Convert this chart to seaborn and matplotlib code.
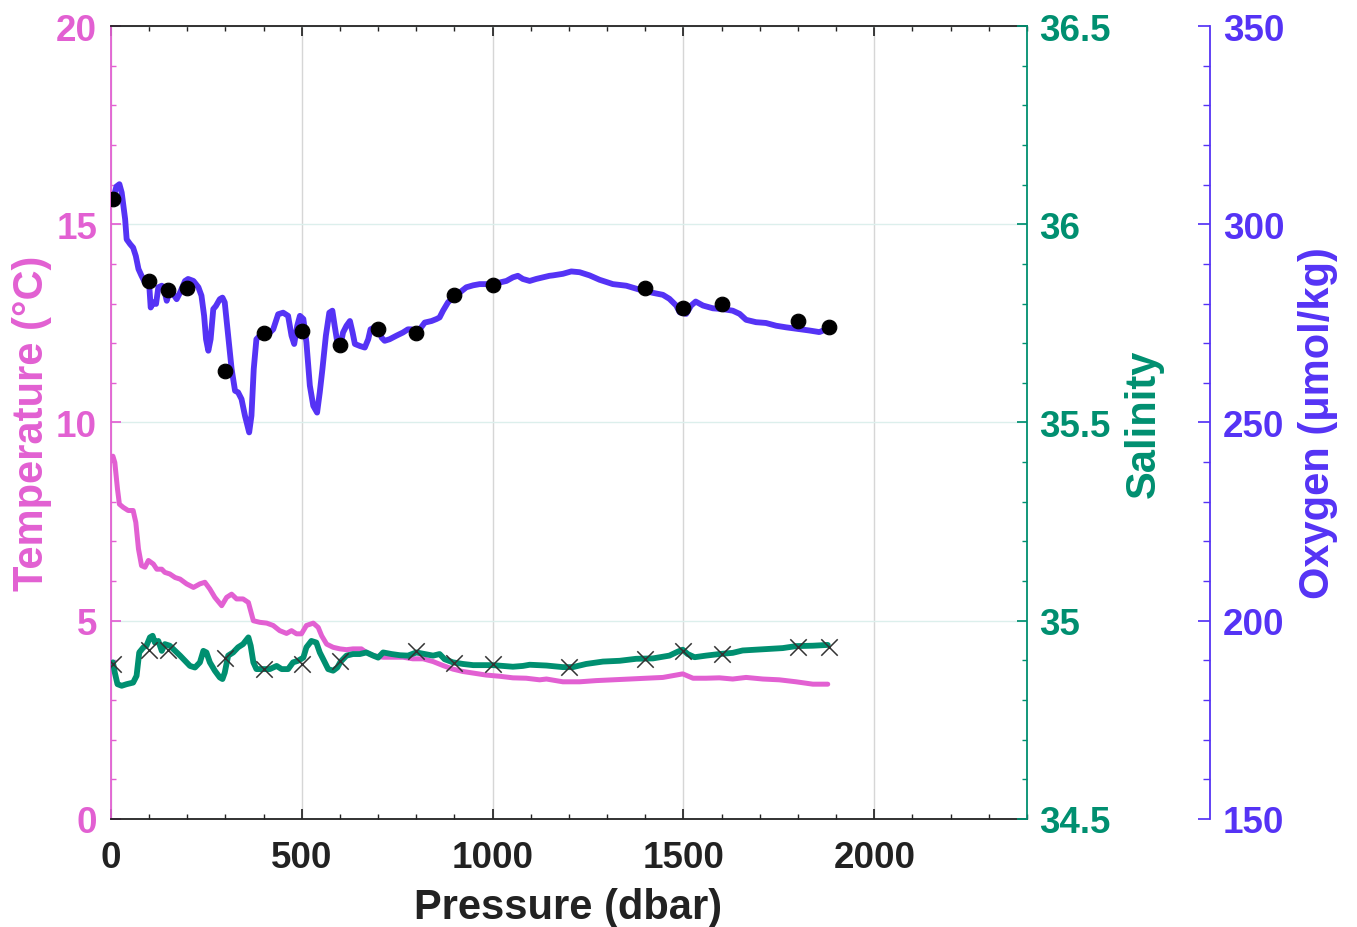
import numpy as np
import seaborn as sns
import matplotlib.pyplot as plt
from matplotlib.ticker import MultipleLocator, FuncFormatter

# CTD profile, (pressure dbar, value)
oxygen_profile = [
    (5, 306.0), (14, 309.5), (22, 310.1), (28, 308.0), (37, 301.3), (41, 296.2), (50, 295.0),
    (58, 294.1), (65, 292.0), (72, 288.7), (80, 287.0), (89, 285.3), (100, 284.9), (104, 279.0),
    (111, 280.3), (118, 279.9), (124, 284.1), (133, 284.5), (139, 283.6), (146, 280.7), (154, 283.2),
    (163, 282.4), (172, 281.1), (181, 282.8), (194, 285.7), (202, 286.2), (216, 285.7), (229, 284.1),
    (237, 282.0), (244, 276.9), (249, 271.0), (255, 268.1), (261, 271.0), (268, 278.6), (275, 279.4),
    (285, 281.1), (292, 281.5), (298, 280.3), (307, 271.9), (316, 263.5), (325, 258.0), (333, 257.6),
    (342, 255.9), (351, 251.7), (362, 247.5), (368, 251.7), (374, 263.5), (381, 271.0), (390, 271.9),
    (401, 272.4), (412, 272.3), (425, 273.5), (438, 277.3), (451, 277.7), (464, 276.9), (473, 271.9),
    (480, 269.8), (488, 274.4), (495, 276.9), (504, 276.1), (512, 270.2), (521, 259.3), (530, 254.2),
    (540, 252.5), (547, 257.6), (554, 263.5), (563, 271.9), (572, 277.7), (580, 278.2), (586, 274.4),
    (593, 270.2), (601, 269.3), (608, 272.7), (617, 274.4), (626, 275.6), (633, 272.7), (639, 269.8),
    (652, 269.3), (665, 268.9), (674, 271.0), (680, 273.5), (691, 274.0), (703, 273.5), (709, 271.4),
    (717, 270.6), (730, 271.0), (748, 271.9), (765, 272.7), (778, 273.5), (787, 273.5), (798, 272.4),
    (809, 273.5), (822, 275.2), (840, 275.6), (853, 276.1), (861, 276.5), (870, 278.2), (883, 280.3),
    (892, 281.1), (903, 282.1), (914, 282.8), (931, 284.1), (949, 284.6), (966, 284.9), (983, 284.9),
    (1001, 285.1), (1018, 285.3), (1036, 285.7), (1053, 286.6), (1066, 287.0), (1079, 286.2),
    (1097, 285.7), (1114, 286.2), (1132, 286.6), (1149, 287.0), (1158, 287.1), (1184, 287.5),
    (1206, 288.1), (1228, 287.9), (1254, 287.1), (1280, 286.0), (1315, 284.9), (1350, 284.5),
    (1385, 283.5), (1420, 282.7), (1446, 282.2), (1463, 281.2), (1481, 279.5), (1490, 277.8),
    (1507, 277.4), (1520, 279.5), (1532, 280.5), (1551, 279.5), (1577, 278.8), (1603, 278.6),
    (1629, 278.2), (1647, 277.4), (1664, 275.9), (1690, 275.3), (1716, 275.1), (1743, 274.4),
    (1769, 274.0), (1799, 273.6), (1830, 273.2), (1856, 272.8), (1876, 273.6),
]

temperature_profile = [
    (5, 9.15), (10, 8.99), (17, 8.32), (22, 7.94), (32, 7.86), (45, 7.78), (58, 7.78), (65, 7.48),
    (72, 6.81), (80, 6.39), (89, 6.35), (98, 6.52), (111, 6.43), (120, 6.30), (133, 6.30), (141, 6.22),
    (154, 6.18), (168, 6.09), (181, 6.05), (198, 5.93), (216, 5.84), (233, 5.93), (246, 5.97),
    (259, 5.80), (272, 5.59), (290, 5.38), (303, 5.59), (316, 5.67), (329, 5.55), (346, 5.55),
    (360, 5.46), (373, 5.00), (390, 4.96), (408, 4.94), (425, 4.88), (442, 4.75), (460, 4.68),
    (473, 4.75), (486, 4.67), (499, 4.67), (512, 4.88), (530, 4.94), (543, 4.83), (552, 4.62),
    (565, 4.41), (582, 4.33), (600, 4.29), (617, 4.27), (634, 4.29), (656, 4.29), (669, 4.20),
    (687, 4.12), (713, 4.08), (739, 4.08), (765, 4.08), (791, 4.04), (818, 4.04), (844, 3.97),
    (870, 3.87), (896, 3.78), (922, 3.72), (949, 3.68), (983, 3.63), (1018, 3.60), (1053, 3.56),
    (1088, 3.55), (1123, 3.51), (1141, 3.53), (1184, 3.46), (1228, 3.46), (1271, 3.49), (1315, 3.51),
    (1359, 3.53), (1402, 3.55), (1446, 3.57), (1481, 3.63), (1498, 3.66), (1525, 3.55), (1559, 3.55),
    (1594, 3.56), (1629, 3.53), (1664, 3.57), (1708, 3.53), (1751, 3.51), (1795, 3.46), (1839, 3.40),
    (1878, 3.40),
]

salinity_profile = [
    (5, 34.895), (10, 34.869), (17, 34.840), (28, 34.836), (41, 34.840), (58, 34.844), (67, 34.861),
    (74, 34.920), (85, 34.933), (93, 34.937), (102, 34.958), (109, 34.962), (115, 34.945),
    (124, 34.949), (133, 34.924), (141, 34.941), (154, 34.937), (168, 34.924), (181, 34.912),
    (194, 34.899), (207, 34.886), (220, 34.882), (233, 34.895), (242, 34.924), (250, 34.920),
    (259, 34.895), (272, 34.874), (285, 34.857), (292, 34.853), (298, 34.869), (307, 34.912),
    (320, 34.920), (333, 34.933), (346, 34.941), (360, 34.958), (366, 34.937), (373, 34.895),
    (381, 34.878), (399, 34.878), (416, 34.878), (434, 34.886), (447, 34.878), (464, 34.878),
    (477, 34.895), (490, 34.899), (504, 34.907), (512, 34.933), (525, 34.949), (538, 34.945),
    (547, 34.920), (556, 34.903), (569, 34.878), (582, 34.874), (593, 34.882), (601, 34.896),
    (617, 34.912), (634, 34.916), (652, 34.916), (669, 34.920), (687, 34.912), (700, 34.907),
    (713, 34.920), (735, 34.916), (757, 34.913), (778, 34.912), (800, 34.920), (822, 34.916),
    (844, 34.912), (861, 34.916), (874, 34.903), (896, 34.895), (922, 34.891), (949, 34.888),
    (975, 34.888), (1001, 34.888), (1027, 34.886), (1053, 34.884), (1079, 34.886), (1097, 34.889),
    (1141, 34.887), (1184, 34.883), (1210, 34.883), (1245, 34.891), (1289, 34.897), (1333, 34.899),
    (1376, 34.904), (1420, 34.905), (1463, 34.912), (1485, 34.922), (1498, 34.927), (1511, 34.916),
    (1529, 34.908), (1559, 34.912), (1594, 34.916), (1629, 34.919), (1655, 34.925), (1690, 34.927),
    (1725, 34.929), (1760, 34.931), (1795, 34.936), (1839, 34.937), (1878, 34.939),
]

# bottle samples
oxygen_bottle_p = [5, 100, 150, 200, 300, 400, 500, 600, 700, 800, 900, 1000, 1400, 1500, 1600, 1800, 1880]
oxygen_bottle = [306.3, 285.6, 283.4, 283.9, 263.1, 272.5, 273.1, 269.6, 273.6, 272.5, 282.2, 284.7,
                 283.9, 279.0, 279.8, 275.7, 274.0]
salinity_bottle_p = [5, 100, 150, 300, 400, 500, 600, 800, 900, 1000, 1200, 1400, 1500, 1600, 1800, 1880]
salinity_bottle = [34.890, 34.926, 34.926, 34.906, 34.878, 34.891, 34.898, 34.924, 34.893, 34.890,
                   34.883, 34.904, 34.924, 34.916, 34.935, 34.935]

T_COLOR = '#E260D2'
S_COLOR = '#008F70'
O_COLOR = '#5533F5'
TICK_FS = 26.5
LABEL_FS = 30

sns.set_theme(style='white')
plt.rcParams['font.family'] = ['Liberation Sans', 'DejaVu Sans']
plt.rcParams['font.weight'] = 'bold'

fig = plt.figure(figsize=(13.57, 9.28), dpi=100)
ax = fig.add_axes([0.0818, 0.1164, 0.6750, 0.8545])
ax_s = ax.twinx()
ax_o = ax.twinx()
ax_o.spines['right'].set_position(('axes', 1.2))

tp, tv = zip(*temperature_profile)
sp, sv = zip(*salinity_profile)
op, ov = zip(*oxygen_profile)

sns.lineplot(x=list(tp), y=list(tv), sort=False, estimator=None, color=T_COLOR, linewidth=3.6, ax=ax)
sns.lineplot(x=list(sp), y=list(sv), sort=False, estimator=None, color=S_COLOR, linewidth=4.2, ax=ax_s)
sns.scatterplot(x=salinity_bottle_p, y=salinity_bottle, marker='x', s=140, color='#333333',
                linewidths=1.1, ax=ax_s, zorder=5)
sns.lineplot(x=list(op), y=list(ov), sort=False, estimator=None, color=O_COLOR, linewidth=4.2, ax=ax_o)
sns.scatterplot(x=oxygen_bottle_p, y=oxygen_bottle, s=110, color='black', edgecolor='black',
                ax=ax_o, zorder=5)

ax.set_xlim(0, 2400)
ax.set_ylim(0, 20)
ax_s.set_ylim(34.5, 36.5)
ax_o.set_ylim(150, 350)

ax.set_xticks([0, 500, 1000, 1500, 2000])
ax.xaxis.set_minor_locator(MultipleLocator(100))
ax.yaxis.set_major_locator(MultipleLocator(5))
ax.yaxis.set_minor_locator(MultipleLocator(1))
ax_s.yaxis.set_major_locator(MultipleLocator(0.5))
ax_s.yaxis.set_minor_locator(MultipleLocator(0.1))
ax_s.yaxis.set_major_formatter(FuncFormatter(lambda v, _: f'{v:g}'))
ax_o.yaxis.set_major_locator(MultipleLocator(50))
ax_o.yaxis.set_minor_locator(MultipleLocator(10))

# grid lines
ax.xaxis.grid(True, which='major', color='#D6D6D6', linewidth=1.0)
ax.yaxis.grid(True, which='major', color='#DCEFEC', linewidth=1.0)
ax.set_axisbelow(True)

# spines
for sp_name in ['left', 'top', 'bottom']:
    ax_s.spines[sp_name].set_visible(False)
    ax_o.spines[sp_name].set_visible(False)
ax.spines['right'].set_visible(False)
ax.spines['left'].set_color(T_COLOR)
ax.spines['top'].set_color('#222222')
ax.spines['bottom'].set_color('#222222')
ax_s.spines['right'].set_color(S_COLOR)
ax_o.spines['right'].set_color(O_COLOR)
for a in (ax, ax_s, ax_o):
    for s in a.spines.values():
        s.set_linewidth(1.3)

ax.tick_params(axis='x', which='both', direction='in', top=True, bottom=True, colors='#222222',
               labelsize=TICK_FS, pad=15)
ax.tick_params(axis='x', which='major', length=7)
ax.tick_params(axis='x', which='minor', length=3.6)
ax.tick_params(axis='y', which='both', direction='in', left=True, right=False, colors=T_COLOR,
               labelsize=TICK_FS, pad=10)
ax.tick_params(axis='y', which='major', length=7)
ax.tick_params(axis='y', which='minor', length=3.6)
ax_s.tick_params(axis='y', which='both', direction='in', right=True, colors=S_COLOR,
                 labelsize=TICK_FS, pad=9)
ax_s.tick_params(axis='y', which='major', length=7)
ax_s.tick_params(axis='y', which='minor', length=3.6)
ax_o.tick_params(axis='y', which='both', direction='in', right=True, colors=O_COLOR,
                 labelsize=TICK_FS, pad=9)
ax_o.tick_params(axis='y', which='major', length=8.5)
ax_o.tick_params(axis='y', which='minor', length=5)

for a in (ax, ax_s, ax_o):
    for lab in a.get_xticklabels() + a.get_yticklabels():
        lab.set_fontweight('bold')

ax.set_xlabel('Pressure (dbar)', fontsize=LABEL_FS, fontweight='bold', color='#222222')
ax.set_ylabel('Temperature (°C)', fontsize=LABEL_FS, fontweight='bold', color=T_COLOR)
ax_s.set_ylabel('Salinity', fontsize=LABEL_FS, fontweight='bold', color=S_COLOR)
ax_o.set_ylabel('Oxygen (μmol/kg)', fontsize=LABEL_FS, fontweight='bold', color=O_COLOR)
ax.xaxis.set_label_coords(0.499, -0.086)
ax.yaxis.set_label_coords(-0.064, 0.5)
ax_s.yaxis.set_label_coords(1.106, 0.5)
ax_o.yaxis.set_label_coords(1.296, 0.5)

fig.savefig('out.png', dpi=100)
plt.close(fig)
